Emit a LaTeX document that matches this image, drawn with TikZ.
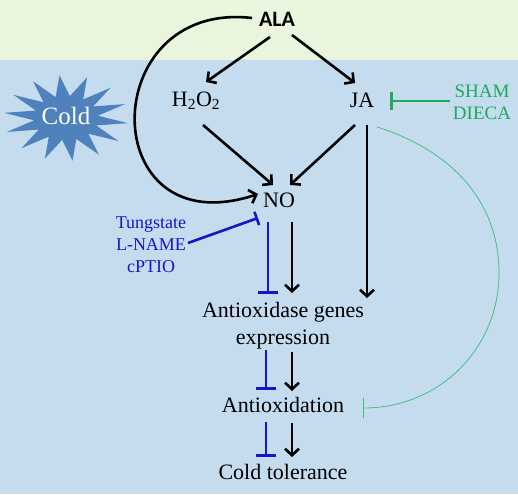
\documentclass[tikz,border=0pt]{standalone}
\usepackage{fontspec}
\setmainfont{Liberation Serif}
\newfontfamily\alafont{Carlito}
\usetikzlibrary{arrows.meta,shapes.geometric,calc}
\definecolor{bandgreen}{RGB}{233,245,220}
\definecolor{bandblue}{RGB}{197,220,239}
\definecolor{coldblue}{RGB}{79,129,189}
\definecolor{inhblue}{RGB}{22,22,200}
\definecolor{inhgreen}{RGB}{30,170,90}
\definecolor{thingreen}{RGB}{70,190,130}
\tikzset{
  lbl/.style={inner sep=0pt, align=center, font=\fontsize{22}{27}\selectfont},
  drug/.style={inner sep=0pt, align=center, font=\fontsize{18}{22}\selectfont},
  flow/.style={-{Straight Barb[length=6.5pt,width=14pt]}, line width=2.6pt},
  inh/.style={-{Bar[width=20pt]}, line width=2.6pt, draw=inhblue},
  inhg/.style={-{Bar[width=18pt]}, line width=2.6pt, draw=inhgreen},
  loop/.style={-{Bar[width=20pt]}, line width=0.8pt, draw=thingreen},
}

\begin{document}
\begin{tikzpicture}[x=1pt,y=-1pt]
  \useasboundingbox (0,0) rectangle (518,494);
  % background bands
  \fill[bandgreen] (0,0) rectangle (518,60);
  \fill[bandblue] (0,60) rectangle (518,494);
  % cold star
  \begin{scope}[shift={(66,118)}, xscale=1.45]
    \node[star, star points=14, star point ratio=1.95, minimum size=86pt,
      fill=coldblue, inner sep=0pt, rotate=6, transform shape] (coldstar) {};
  \end{scope}
  \node[inner sep=0pt, text=white, font=\fontsize{25}{30}\selectfont]
    at (66,116) (cold) {Cold};
  % nodes
  \node[inner sep=0pt, font=\alafont\bfseries\fontsize{22}{26}\selectfont]
    at (277,19) (ala) {ALA};
  \node[lbl] at (196,101) (hoo) {H\textsubscript{2}O\textsubscript{2}};
  \node[lbl] at (362,100) (ja) {JA};
  \node[lbl] at (279,200) (no) {NO};
  \node[lbl] at (283,326) (gene) {Antioxidase genes\\expression};
  \node[lbl] at (283,405) (antiox) {Antioxidation};
  \node[lbl] at (283,472) (tol) {Cold tolerance};
  \node[drug, text=inhblue] at (151,245) (noinh) {Tungstate\\L-NAME\\cPTIO};
  \node[drug, text=inhgreen, font=\fontsize{19}{22}\selectfont]
    at (482,102) (jainh) {SHAM\\DIECA};
  % ALA branches
  \draw[flow] ([shift={(-7,18)}]ala.center) -- ([shift={(10,-19)}]hoo.center);
  \draw[flow] ([shift={(15,16)}]ala.center) -- ([shift={(-7,-17)}]ja.center);
  \draw[flow] ([shift={(-25,-1)}]ala.center)
    .. controls (95,0) and (95,248) .. ([shift={(-21,-6)}]no.center);
  % into NO
  \draw[flow] ([shift={(7,24)}]hoo.center) -- ([shift={(-6,-15)}]no.center);
  \draw[flow] ([shift={(-7,25)}]ja.center) -- ([shift={(11,-15)}]no.center);
  \draw[flow] ([shift={(5,25)}]ja.center) -- ([shift={(84,-28)}]gene.center);
  % NO down to cold tolerance
  \draw[flow] ([shift={(13,22)}]no.center) -- ([shift={(9,-33)}]gene.center);
  \draw[inh] ([shift={(-11,22)}]no.center) -- ([shift={(-15,-32)}]gene.center);
  \draw[flow] ([shift={(9,26)}]gene.center) -- ([shift={(9,-14)}]antiox.center);
  \draw[inh] ([shift={(-17,24)}]gene.center) -- ([shift={(-17,-15)}]antiox.center);
  \draw[flow] ([shift={(9,18)}]antiox.center) -- ([shift={(9,-15)}]tol.center);
  \draw[inh] ([shift={(-17,17)}]antiox.center) -- ([shift={(-17,-15)}]tol.center);
  % inhibitors
  \draw[inh, -{Bar[width=14pt]}] ([shift={(37,-2)}]noinh.center)
    -- ([shift={(-21,18)}]no.center);
  \draw[inhg] ([shift={(-32,-1)}]jainh.center) -- ([shift={(28,1)}]ja.center);
  \draw[loop] ([shift={(15,27)}]ja.center)
    .. controls (450,150) and (499,200) .. (499,273)
    .. controls (499,348) and (440,408) .. ([shift={(80,3)}]antiox.center);
\end{tikzpicture}
\end{document}
